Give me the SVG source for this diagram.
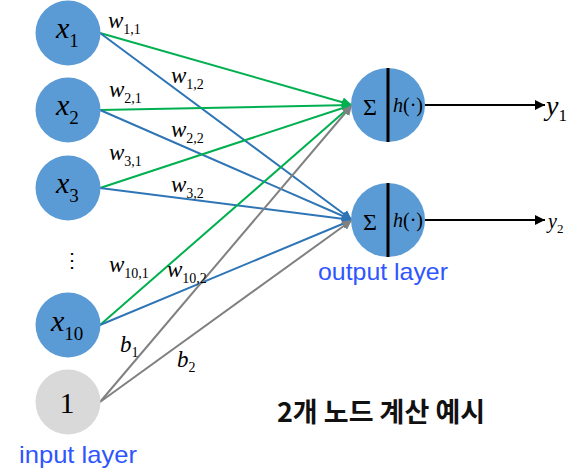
<svg xmlns="http://www.w3.org/2000/svg" width="575" height="476" viewBox="0 0 575 476">
<style>
.node{fill:#5B9BD5}
.bias{fill:#D9D9D9}
.math{font-family:"Liberation Serif","Times New Roman",serif;fill:#000}
.it{font-style:italic}
.w{font-size:23px}
.sub{font-size:14px;font-style:normal}
.xl{font-size:30px}
.xs{font-size:19px;font-style:normal}
.g{stroke:#00B050;stroke-width:2;fill:none}
.b{stroke:#2E75B6;stroke-width:2;fill:none}
.r{stroke:#808080;stroke-width:2;fill:none}
.k{stroke:#000;stroke-width:2;fill:none}
.hand{font-family:"Liberation Sans",Arial,sans-serif;font-size:24px;fill:#2F55FF}
</style>
<defs>
<marker id="ag" viewBox="0 0 10 10" refX="10" refY="5" markerWidth="5" markerHeight="5" orient="auto"><path d="M0,0L10,5L0,10z" fill="#00B050"/></marker>
<marker id="ab" viewBox="0 0 10 10" refX="10" refY="5" markerWidth="5" markerHeight="5" orient="auto"><path d="M0,0L10,5L0,10z" fill="#2E75B6"/></marker>
<marker id="ar" viewBox="0 0 10 10" refX="10" refY="5" markerWidth="5" markerHeight="5" orient="auto"><path d="M0,0L10,5L0,10z" fill="#808080"/></marker>
<marker id="ak" viewBox="0 0 10 10" refX="10" refY="5" markerWidth="5" markerHeight="5" orient="auto"><path d="M0,0L10,5L0,10z" fill="#000"/></marker>
</defs>

<g id="connectors">
<line class="g" x1="100" y1="33" x2="352" y2="105" marker-end="url(#ag)"/>
<line class="b" x1="100" y1="33" x2="352" y2="220" marker-end="url(#ab)"/>
<line class="g" x1="100" y1="110" x2="352" y2="105" marker-end="url(#ag)"/>
<line class="b" x1="100" y1="110" x2="352" y2="220" marker-end="url(#ab)"/>
<line class="g" x1="100" y1="188" x2="352" y2="105" marker-end="url(#ag)"/>
<line class="b" x1="100" y1="188" x2="352" y2="220" marker-end="url(#ab)"/>
<line class="g" x1="100" y1="325" x2="352" y2="105" marker-end="url(#ag)"/>
<line class="b" x1="100" y1="325" x2="352" y2="220" marker-end="url(#ab)"/>
<line class="r" x1="100" y1="402" x2="352" y2="105" marker-end="url(#ar)"/>
<line class="r" x1="100" y1="402" x2="352" y2="220" marker-end="url(#ar)"/>
<line class="k" x1="425" y1="105" x2="545" y2="105" marker-end="url(#ak)"/>
<line class="k" x1="425" y1="220" x2="545" y2="220" marker-end="url(#ak)"/>
</g>

<g id="x1"><circle class="node" cx="68" cy="33" r="32.5"/><text class="math it xl" x="56" y="38">x<tspan class="xs" dy="9">1</tspan></text></g>
<g id="x2"><circle class="node" cx="68" cy="110" r="32.5"/><text class="math it xl" x="56" y="115">x<tspan class="xs" dy="9">2</tspan></text></g>
<g id="x3"><circle class="node" cx="68" cy="188" r="32.5"/><text class="math it xl" x="56" y="193">x<tspan class="xs" dy="9">3</tspan></text></g>
<g id="dots"><text class="math" x="72" y="267" font-size="20" text-anchor="middle">⋮</text></g>
<g id="x10"><circle class="node" cx="68" cy="325" r="32.5"/><text class="math it xl" x="51" y="331">x<tspan class="xs" dy="9">10</tspan></text></g>
<g id="bias"><circle class="bias" cx="68" cy="402" r="32.5"/><text class="math" x="67" y="413" font-size="30" text-anchor="middle">1</text></g>

<g id="out1"><circle class="node" cx="388" cy="105" r="37"/><line x1="388" y1="68" x2="388" y2="142" stroke="#000" stroke-width="3"/>
<text class="math" x="370" y="115" font-size="24" text-anchor="middle">Σ</text>
<text class="math" x="393" y="112" font-size="20"><tspan class="it">h</tspan>(·)</text></g>
<g id="out2"><circle class="node" cx="388" cy="220" r="37"/><line x1="388" y1="183" x2="388" y2="257" stroke="#000" stroke-width="3"/>
<text class="math" x="370" y="230" font-size="24" text-anchor="middle">Σ</text>
<text class="math" x="393" y="227" font-size="20"><tspan class="it">h</tspan>(·)</text></g>

<g id="y1"><text class="math it" x="546" y="115" font-size="28">y<tspan font-size="17" font-style="normal" dy="6">1</tspan></text></g>
<g id="y2"><text class="math it" x="548" y="228" font-size="20">y<tspan font-size="13" font-style="normal" dy="5">2</tspan></text></g>

<g id="labels">
<text class="math it w" x="108" y="28">w<tspan class="sub" dy="6">1,1</tspan></text>
<text class="math it w" x="171" y="83">w<tspan class="sub" dy="6">1,2</tspan></text>
<text class="math it w" x="109" y="97">w<tspan class="sub" dy="6">2,1</tspan></text>
<text class="math it w" x="171" y="137">w<tspan class="sub" dy="6">2,2</tspan></text>
<text class="math it w" x="109" y="160">w<tspan class="sub" dy="6">3,1</tspan></text>
<text class="math it w" x="171" y="192">w<tspan class="sub" dy="6">3,2</tspan></text>
<text class="math it w" x="109" y="272">w<tspan class="sub" dy="6">10,1</tspan></text>
<text class="math it w" x="167" y="277">w<tspan class="sub" dy="6">10,2</tspan></text>
<text class="math it w" x="120" y="352">b<tspan class="sub" dy="5">1</tspan></text>
<text class="math it w" x="177" y="367">b<tspan class="sub" dy="5">2</tspan></text>
</g>

<g id="captions">
<text class="hand" x="19" y="463" textLength="118" lengthAdjust="spacingAndGlyphs">input layer</text>
<text class="hand" x="318" y="280" textLength="130" lengthAdjust="spacingAndGlyphs">output layer</text>
<text x="381" y="422" font-family="'Noto Sans CJK KR',sans-serif" font-weight="bold" font-size="27" text-anchor="middle" fill="#111">2개 노드 계산 예시</text>
</g>
</svg>
